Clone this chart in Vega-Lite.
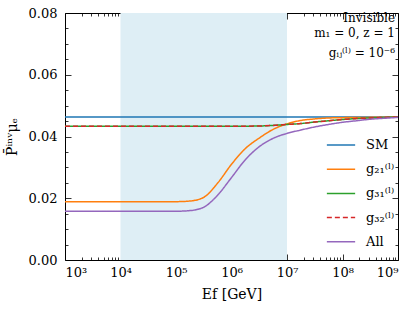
{
  "$schema": "https://vega.github.io/schema/vega-lite/v6.json",
  "width": 333,
  "height": 247,
  "autosize": "none",
  "padding": {"left": 65, "top": 13, "right": 17, "bottom": 50},
  "background": "white",
  "config": {
    "font": "DejaVu Serif",
    "view": {"stroke": "#000", "strokeWidth": 1},
    "axis": {"domain": false, "grid": false, "tickColor": "#000", "labelColor": "#000", "titleColor": "#000", "labelFont": "DejaVu Serif", "titleFont": "DejaVu Serif", "labelFontSize": 13, "titleFontSize": 14, "titleFontWeight": "normal", "tickWidth": 0.8}
  },
  "datasets": {
    "band": [{"lo": 10000, "hi": 10000000}],
    "curves": [
      {"E": 1000, "P": 0.0463, "s": "SM"},
      {"E": 1000000000, "P": 0.0463, "s": "SM"},
      {"E": 1000, "P": 0.0189, "s": "g₂₁⁽ˡ⁾"},
      {"E": 100000, "P": 0.0189, "s": "g₂₁⁽ˡ⁾"},
      {"E": 177828, "P": 0.0191, "s": "g₂₁⁽ˡ⁾"},
      {"E": 316228, "P": 0.0203, "s": "g₂₁⁽ˡ⁾"},
      {"E": 562341, "P": 0.0249, "s": "g₂₁⁽ˡ⁾"},
      {"E": 1000000, "P": 0.0310, "s": "g₂₁⁽ˡ⁾"},
      {"E": 1778279, "P": 0.0361, "s": "g₂₁⁽ˡ⁾"},
      {"E": 3162278, "P": 0.0395, "s": "g₂₁⁽ˡ⁾"},
      {"E": 5623413, "P": 0.0423, "s": "g₂₁⁽ˡ⁾"},
      {"E": 10000000, "P": 0.0441, "s": "g₂₁⁽ˡ⁾"},
      {"E": 17782794, "P": 0.0452, "s": "g₂₁⁽ˡ⁾"},
      {"E": 31622777, "P": 0.0457, "s": "g₂₁⁽ˡ⁾"},
      {"E": 56234133, "P": 0.0460, "s": "g₂₁⁽ˡ⁾"},
      {"E": 100000000, "P": 0.0461, "s": "g₂₁⁽ˡ⁾"},
      {"E": 316227766, "P": 0.0462, "s": "g₂₁⁽ˡ⁾"},
      {"E": 1000000000, "P": 0.0463, "s": "g₂₁⁽ˡ⁾"},
      {"E": 1000, "P": 0.0433, "s": "g₃₁⁽ˡ⁾"},
      {"E": 1000000, "P": 0.0433, "s": "g₃₁⁽ˡ⁾"},
      {"E": 3162278, "P": 0.0434, "s": "g₃₁⁽ˡ⁾"},
      {"E": 5623413, "P": 0.0436, "s": "g₃₁⁽ˡ⁾"},
      {"E": 10000000, "P": 0.0439, "s": "g₃₁⁽ˡ⁾"},
      {"E": 17782794, "P": 0.0442, "s": "g₃₁⁽ˡ⁾"},
      {"E": 31622777, "P": 0.0447, "s": "g₃₁⁽ˡ⁾"},
      {"E": 56234133, "P": 0.0451, "s": "g₃₁⁽ˡ⁾"},
      {"E": 100000000, "P": 0.0455, "s": "g₃₁⁽ˡ⁾"},
      {"E": 177827941, "P": 0.0458, "s": "g₃₁⁽ˡ⁾"},
      {"E": 316227766, "P": 0.0460, "s": "g₃₁⁽ˡ⁾"},
      {"E": 1000000000, "P": 0.0463, "s": "g₃₁⁽ˡ⁾"},
      {"E": 1000, "P": 0.0433, "s": "g₃₂⁽ˡ⁾"},
      {"E": 1000000, "P": 0.0433, "s": "g₃₂⁽ˡ⁾"},
      {"E": 3162278, "P": 0.0434, "s": "g₃₂⁽ˡ⁾"},
      {"E": 5623413, "P": 0.0436, "s": "g₃₂⁽ˡ⁾"},
      {"E": 10000000, "P": 0.0439, "s": "g₃₂⁽ˡ⁾"},
      {"E": 17782794, "P": 0.0442, "s": "g₃₂⁽ˡ⁾"},
      {"E": 31622777, "P": 0.0447, "s": "g₃₂⁽ˡ⁾"},
      {"E": 56234133, "P": 0.0451, "s": "g₃₂⁽ˡ⁾"},
      {"E": 100000000, "P": 0.0455, "s": "g₃₂⁽ˡ⁾"},
      {"E": 177827941, "P": 0.0458, "s": "g₃₂⁽ˡ⁾"},
      {"E": 316227766, "P": 0.0460, "s": "g₃₂⁽ˡ⁾"},
      {"E": 1000000000, "P": 0.0463, "s": "g₃₂⁽ˡ⁾"},
      {"E": 1000, "P": 0.0158, "s": "All"},
      {"E": 100000, "P": 0.0158, "s": "All"},
      {"E": 177828, "P": 0.0160, "s": "All"},
      {"E": 316228, "P": 0.0171, "s": "All"},
      {"E": 562341, "P": 0.0210, "s": "All"},
      {"E": 1000000, "P": 0.0267, "s": "All"},
      {"E": 1778279, "P": 0.0325, "s": "All"},
      {"E": 3162278, "P": 0.0367, "s": "All"},
      {"E": 5623413, "P": 0.0394, "s": "All"},
      {"E": 10000000, "P": 0.0410, "s": "All"},
      {"E": 17782794, "P": 0.0421, "s": "All"},
      {"E": 31622777, "P": 0.0431, "s": "All"},
      {"E": 56234133, "P": 0.0439, "s": "All"},
      {"E": 100000000, "P": 0.0446, "s": "All"},
      {"E": 177827941, "P": 0.0451, "s": "All"},
      {"E": 316227766, "P": 0.0456, "s": "All"},
      {"E": 562341325, "P": 0.0459, "s": "All"},
      {"E": 1000000000, "P": 0.0462, "s": "All"}
    ],
    "notes": [
      {"t": "Invisible", "y": 0.0784},
      {"t": "m₁ = 0, z = 1", "y": 0.0735},
      {"t": "gᵢⱼ⁽ˡ⁾ = 10⁻⁶", "y": 0.0672}
    ]
  },
  "layer": [
    {
      "data": {"name": "band"},
      "mark": {"type": "rect", "color": "#deeef5"},
      "encoding": {
        "x": {"field": "lo", "type": "quantitative", "scale": {"type": "log", "domain": [1000, 1000000000], "nice": false},
          "axis": {"orient": "bottom", "values": [1000, 10000, 100000, 1000000, 10000000, 100000000, 1000000000], "tickSize": -6, "labelPadding": 12, "labelExpr": "'10' + ['⁰','¹','²','³','⁴','⁵','⁶','⁷','⁸','⁹'][round(log(datum.value)/LN10)]", "title": "Ef [GeV]", "titlePadding": 8}},
        "x2": {"field": "hi"},
        "y": {"datum": 0, "type": "quantitative", "scale": {"domain": [0, 0.08], "nice": false, "zero": false},
          "axis": {"orient": "left", "values": [0, 0.02, 0.04, 0.06, 0.08], "format": ".2f", "tickSize": -6, "labelPadding": 14, "title": "P̄ⁱⁿᵛμₑ", "titlePadding": 9}},
        "y2": {"datum": 0.08}
      }
    },
    {
      "data": {"name": "curves"},
      "mark": {"type": "line", "strokeWidth": 1.5, "interpolate": "monotone"},
      "encoding": {
        "x": {"field": "E", "type": "quantitative", "axis": {"orient": "top", "values": [1000, 10000, 100000, 1000000, 10000000, 100000000, 1000000000], "tickSize": -6, "labels": false, "title": null}},
        "y": {"field": "P", "type": "quantitative", "axis": {"orient": "right", "values": [0, 0.02, 0.04, 0.06, 0.08], "tickSize": -6, "labels": false, "title": null}},
        "color": {"field": "s", "type": "nominal", "sort": null,
          "scale": {"domain": ["SM", "g₂₁⁽ˡ⁾", "g₃₁⁽ˡ⁾", "g₃₂⁽ˡ⁾", "All"], "range": ["#1f77b4", "#ff7f0e", "#2ca02c", "#d62728", "#9467bd"]},
          "legend": {"orient": "none", "legendX": 261, "legendY": 117, "title": null, "symbolType": "stroke", "symbolSize": 800, "symbolStrokeWidth": 1.5, "labelFontSize": 13, "labelFont": "DejaVu Serif", "rowPadding": 2.2, "labelOffset": 10}},
        "strokeDash": {"field": "s", "type": "nominal", "sort": null,
          "scale": {"domain": ["SM", "g₂₁⁽ˡ⁾", "g₃₁⁽ˡ⁾", "g₃₂⁽ˡ⁾", "All"], "range": [[1, 0], [1, 0], [1, 0], [5, 3], [1, 0]]},
          "legend": {"orient": "none", "legendX": 261, "legendY": 117, "title": null, "symbolType": "stroke", "symbolSize": 800, "symbolStrokeWidth": 1.5, "labelFontSize": 13, "labelFont": "DejaVu Serif", "rowPadding": 2.2, "labelOffset": 10}}
      }
    },
    {
      "data": {"name": "curves"},
      "mark": {"type": "point", "opacity": 0},
      "encoding": {
        "x": {"field": "E", "type": "quantitative", "axis": {"orient": "bottom", "values": [2000,3000,4000,5000,6000,7000,8000,9000,20000,30000,40000,50000,60000,70000,80000,90000,200000,300000,400000,500000,600000,700000,800000,900000,2000000,3000000,4000000,5000000,6000000,7000000,8000000,9000000,20000000,30000000,40000000,50000000,60000000,70000000,80000000,90000000,200000000,300000000,400000000,500000000,600000000,700000000,800000000,900000000], "tickSize": -3, "labels": false, "title": null}},
        "y": {"field": "P", "type": "quantitative", "axis": {"orient": "left", "values": [0.005, 0.01, 0.015, 0.025, 0.03, 0.035, 0.045, 0.05, 0.055, 0.065, 0.07, 0.075], "tickSize": -3, "labels": false, "title": null}}
      }
    },
    {
      "data": {"name": "curves"},
      "mark": {"type": "point", "opacity": 0},
      "encoding": {
        "x": {"field": "E", "type": "quantitative", "axis": {"orient": "top", "values": [2000,3000,4000,5000,6000,7000,8000,9000,20000,30000,40000,50000,60000,70000,80000,90000,200000,300000,400000,500000,600000,700000,800000,900000,2000000,3000000,4000000,5000000,6000000,7000000,8000000,9000000,20000000,30000000,40000000,50000000,60000000,70000000,80000000,90000000,200000000,300000000,400000000,500000000,600000000,700000000,800000000,900000000], "tickSize": -3, "labels": false, "title": null}},
        "y": {"field": "P", "type": "quantitative", "axis": {"orient": "right", "values": [0.005, 0.01, 0.015, 0.025, 0.03, 0.035, 0.045, 0.05, 0.055, 0.065, 0.07, 0.075], "tickSize": -3, "labels": false, "title": null}}
      }
    },
    {
      "data": {"name": "notes"},
      "mark": {"type": "text", "align": "right", "baseline": "middle", "dx": -3, "fontSize": 12, "font": "DejaVu Serif", "color": "#000"},
      "encoding": {
        "x": {"datum": 1000000000, "type": "quantitative", "axis": null},
        "y": {"field": "y", "type": "quantitative", "axis": null},
        "text": {"field": "t"}
      }
    }
  ]
}
